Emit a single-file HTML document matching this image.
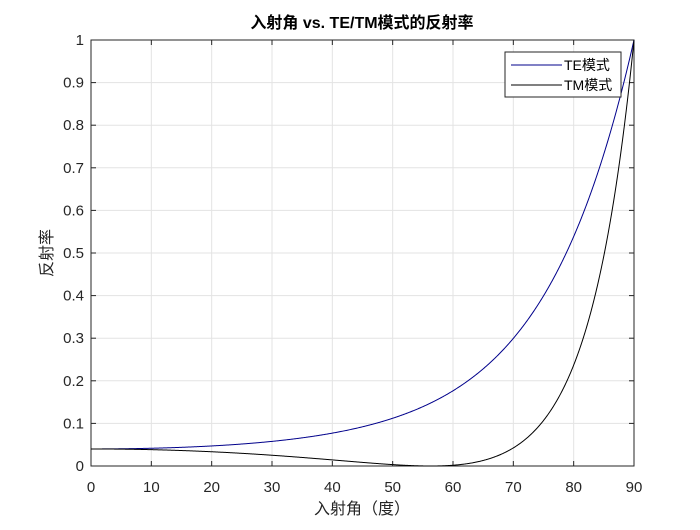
<!DOCTYPE html>
<html><head><meta charset="utf-8"><style>
html,body{margin:0;padding:0;background:#fff;}
svg text{font-family:"Liberation Sans","Noto Sans CJK SC",sans-serif;}
</style></head><body>
<svg id="s" width="700" height="525" xmlns="http://www.w3.org/2000/svg">
<rect width="700" height="525" fill="#fff"/>
<g id="grid" stroke="#e3e3e3" stroke-width="1"></g>
<rect x="91" y="40" width="543" height="426" fill="none" stroke="#262626" stroke-width="1"/>
<g id="ticks" stroke="#262626" stroke-width="1"></g>
<g id="lbl" font-size="15" fill="#262626"></g>
<polyline id="te" fill="none" stroke="#00008b" stroke-width="1"/>
<polyline id="tm" fill="none" stroke="#000" stroke-width="1"/>
<text x="362" y="28" font-size="16" font-weight="bold" text-anchor="middle" fill="#000">入射角 vs. TE/TM模式的反射率</text>
<text x="362" y="514" font-size="16" text-anchor="middle" fill="#262626">入射角（度）</text>
<text transform="translate(52,253) rotate(-90)" font-size="16" text-anchor="middle" fill="#262626">反射率</text>
<rect x="505" y="52" width="116" height="45" fill="#fff" stroke="#262626" stroke-width="1"/>
<line x1="511" y1="65" x2="562" y2="65" stroke="#00008b"/>
<line x1="511" y1="85" x2="562" y2="85" stroke="#000"/>
<text x="564" y="70" font-size="14" fill="#000">TE模式</text>
<text x="564" y="90" font-size="14" fill="#000">TM模式</text>
</svg>
<script>
var L=91,R=634,T=40,B=466,NS="http://www.w3.org/2000/svg";
function X(d){return L+(R-L)*d/90}function Y(v){return B-(B-T)*v}
var g=document.getElementById('grid'),tk=document.getElementById('ticks'),lb=document.getElementById('lbl');
function ln(p,a,b,c,d){var e=document.createElementNS(NS,'line');e.setAttribute('x1',a);e.setAttribute('y1',b);e.setAttribute('x2',c);e.setAttribute('y2',d);p.appendChild(e);}
function tx(x,y,s,a){var e=document.createElementNS(NS,'text');e.setAttribute('x',x);e.setAttribute('y',y);e.setAttribute('text-anchor',a);e.textContent=s;lb.appendChild(e);}
for(var i=0;i<=9;i++){var x=X(i*10);if(i>0&&i<9)ln(g,x,T,x,B);ln(tk,x,B,x,B-5);ln(tk,x,T,x,T+5);tx(x,492,String(i*10),'middle');}
for(var j=0;j<=10;j++){var y=Y(j/10);if(j>0&&j<10)ln(g,L,y,R,y);ln(tk,L,y,L+5,y);ln(tk,R,y,R-5,y);tx(84,y+5,j==0?'0':j==10?'1':(j/10).toString(),'end');}
var n=1.5,te=[],tm=[];
for(var k=0;k<=900;k++){var d=k/10,a=d*Math.PI/180,ci=Math.cos(a),st=Math.sin(a)/n,ct=Math.sqrt(1-st*st);
var rs=(ci-n*ct)/(ci+n*ct),rp=(n*ci-ct)/(n*ci+ct);
te.push(X(d).toFixed(2)+','+Y(rs*rs).toFixed(2));tm.push(X(d).toFixed(2)+','+Y(rp*rp).toFixed(2));}
document.getElementById('te').setAttribute('points',te.join(' '));
document.getElementById('tm').setAttribute('points',tm.join(' '));
</script>
</body></html>
